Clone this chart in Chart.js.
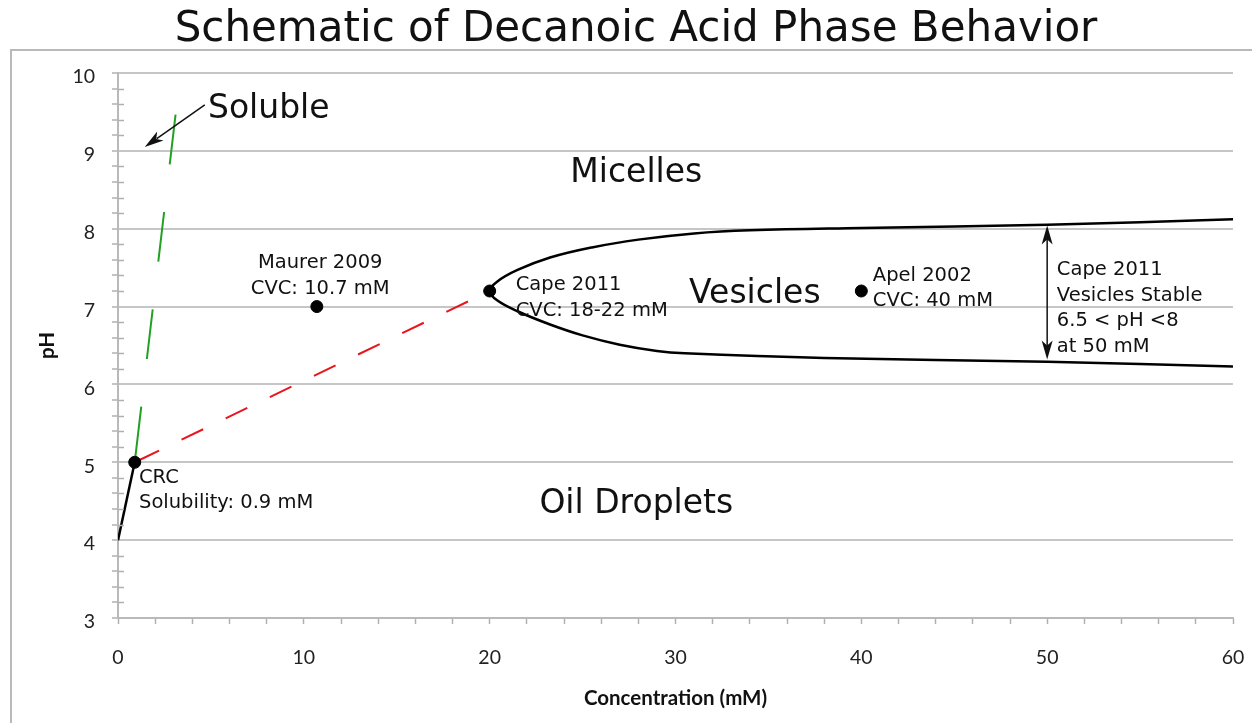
<!DOCTYPE html>
<html>
<head>
<meta charset="utf-8">
<title>Decanoic Acid Phase Behavior</title>
<script src="https://cdn.jsdelivr.net/npm/chart.js@4.4.1/dist/chart.umd.min.js"></script>
<style>
  body { margin: 0; background: #fff; }
  canvas { display: block; }
</style>
</head>
<body>
<canvas id="phase-canvas" width="1252" height="723"></canvas>
<script>
// ---- Data (concentration in mM, pH) ----
const crcLineX = [0, 0.9];
const crcLineY = [4, 5];
const solubleX = [0.9, 3.1];
const solubleY = [5, 9.47];
const oilVesicleX = [0.9, 20];
const oilVesicleY = [5, 7.2];
// vesicle region boundary, upper branch (right to left) then lower branch
const upperX = [60, 50, 40, 34, 31, 28, 25.5, 23.25, 21.5, 20.4, 20];
const upperY = [8.12, 8.05, 8.01, 7.98, 7.94, 7.86, 7.76, 7.63, 7.47, 7.32, 7.2];
const lowerX = [20.4, 21.5, 23.25, 25, 27, 29, 30.5, 38, 50, 60];
const lowerY = [7.08, 6.94, 6.77, 6.63, 6.51, 6.43, 6.4, 6.34, 6.29, 6.23];
// literature points
const studyX = [0.9, 10.7, 20, 40];
const studyY = [5, 7, 7.2, 7.2];
// arrows
const stableRangeX = [50, 50];
const stableRangeY = [8.04, 6.32];
const solubleArrowX = [4.67, 1.44];
const solubleArrowY = [9.59, 9.05];
// tick labels
const xTickValues = [0, 10, 20, 30, 40, 50, 60];
const yTickValues = [3, 4, 5, 6, 7, 8, 9, 10];

// region names and notes
const regionNames = ['Soluble', 'Micelles', 'Vesicles', 'Oil Droplets'];
const regionX = [4.84, 27.89, 34.27, 27.89];
const regionY = [9.42, 8.6, 7.05, 4.35];
const noteLines = [
    ['Maurer 2009', 'CVC: 10.7 mM'],
    ['Cape 2011', 'CVC: 18-22 mM'],
    ['Apel 2002', 'CVC: 40 mM'],
    ['Cape 2011', 'Vesicles Stable', '6.5 < pH <8', 'at 50 mM'],
    ['CRC', 'Solubility: 0.9 mM']
];
const noteX = [10.88, 21.4, 40.62, 50.52, 1.13];
const noteY = [7.49, 7.21, 7.33, 7.4, 4.74];

function toPoints(xs, ys){
    return xs.map((x, i) => ({x: x, y: ys[i]}));
}
function isWhole(v){
    return Math.abs(v - Math.round(v)) < 1e-6;
}

// Filled arrow head pointing at (x1, y1) coming from (x0, y0)
function arrowHead(ctx, x0, y0, x1, y1){
    const a = Math.atan2(y1 - y0, x1 - x0);
    ctx.save();
    ctx.translate(x1, y1);
    ctx.rotate(a);
    ctx.beginPath();
    ctx.moveTo(0, 0);
    ctx.lineTo(-19, -5.5);
    ctx.lineTo(-14, 0);
    ctx.lineTo(-19, 5.5);
    ctx.closePath();
    ctx.fill();
    ctx.restore();
}

const annotatePlugin = {
    id: 'annotate',
    beforeDraw(chart){
        const ctx = chart.ctx;
        // outer frame
        ctx.save();
        ctx.strokeStyle = '#b9b9b9';
        ctx.lineWidth = 2;
        ctx.beginPath();
        ctx.moveTo(11, chart.height + 5);
        ctx.lineTo(11, 50);
        ctx.lineTo(chart.width + 5, 50);
        ctx.stroke();
        ctx.restore();
    },
    afterDraw(chart){
        const ctx = chart.ctx;
        const xs = chart.scales.x;
        const ys = chart.scales.y;
        ctx.save();

        // title
        ctx.fillStyle = '#111';
        ctx.font = '42px "DejaVu Sans"';
        ctx.textAlign = 'center';
        ctx.textBaseline = 'alphabetic';
        ctx.fillText('Schematic of Decanoic Acid Phase Behavior', 636, 41);

        // minor y ticks cross into the plot
        ctx.strokeStyle = '#b0b0b0';
        ctx.lineWidth = 1.5;
        ys.ticks.forEach(t => {
            if(!isWhole(t.value)){
                const py = Math.round(ys.getPixelForValue(t.value)) + 0.5;
                ctx.beginPath();
                ctx.moveTo(xs.left, py);
                ctx.lineTo(xs.left + 6, py);
                ctx.stroke();
            }
        });

        // region names
        ctx.fillStyle = '#111';
        ctx.font = '33px "DejaVu Sans"';
        for (let i = 0; i < regionNames.length; i++) {
            ctx.textAlign = i === 0 ? 'left' : 'center';
            ctx.fillText(regionNames[i], xs.getPixelForValue(regionX[i]), ys.getPixelForValue(regionY[i]));
        }

        // study notes
        ctx.font = '19.5px "DejaVu Sans"';
        for (let i = 0; i < noteLines.length; i++) {
            ctx.textAlign = i === 0 ? 'center' : 'left';
            const px = xs.getPixelForValue(noteX[i]);
            const py = ys.getPixelForValue(noteY[i]);
            noteLines[i].forEach((line, j) => ctx.fillText(line, px, py + j * 25.5));
        }

        // arrows
        ctx.strokeStyle = '#111';
        ctx.fillStyle = '#111';
        ctx.lineWidth = 1.5;
        const ax0 = xs.getPixelForValue(stableRangeX[0]), ay0 = ys.getPixelForValue(stableRangeY[0]);
        const ax1 = xs.getPixelForValue(stableRangeX[1]), ay1 = ys.getPixelForValue(stableRangeY[1]);
        ctx.beginPath();
        ctx.moveTo(ax0, ay0 + 12);
        ctx.lineTo(ax1, ay1 - 12);
        ctx.stroke();
        arrowHead(ctx, ax1, ay1, ax0, ay0);
        arrowHead(ctx, ax0, ay0, ax1, ay1);

        const sx0 = xs.getPixelForValue(solubleArrowX[0]), sy0 = ys.getPixelForValue(solubleArrowY[0]);
        const sx1 = xs.getPixelForValue(solubleArrowX[1]), sy1 = ys.getPixelForValue(solubleArrowY[1]);
        ctx.beginPath();
        ctx.moveTo(sx0, sy0);
        ctx.lineTo(sx1 + (sx0 - sx1) * 0.2, sy1 + (sy0 - sy1) * 0.2);
        ctx.stroke();
        arrowHead(ctx, sx0, sy0, sx1, sy1);

        ctx.restore();
    }
};

const boundary = toPoints(upperX, upperY).concat(toPoints(lowerX, lowerY));

let phaseCanvas = document.getElementById('phase-canvas');
let phaseChart = new Chart(phaseCanvas, {
    type: 'scatter',
    data: {
        datasets: [
            {
                label: 'Studies',
                data: toPoints(studyX, studyY),
                backgroundColor: '#000',
                borderColor: '#000',
                pointRadius: 6,
                showLine: false
            },
            {
                label: 'Vesicle boundary',
                data: boundary,
                showLine: true,
                borderColor: '#000',
                borderWidth: 2.5,
                pointRadius: 0,
                tension: 0.4
            },
            {
                label: 'CRC line',
                data: toPoints(crcLineX, crcLineY),
                showLine: true,
                borderColor: '#000',
                borderWidth: 2.5,
                pointRadius: 0
            },
            {
                label: 'Soluble boundary',
                data: toPoints(solubleX, solubleY),
                showLine: true,
                borderColor: '#22a022',
                borderWidth: 2,
                borderDash: [50, 48],
                borderDashOffset: -6,
                pointRadius: 0
            },
            {
                label: 'Oil droplet / vesicle boundary',
                data: toPoints(oilVesicleX, oilVesicleY),
                showLine: true,
                borderColor: '#e8161c',
                borderWidth: 2,
                borderDash: [24, 25],
                borderDashOffset: -3,
                pointRadius: 0
            }
        ]
    },
    options: {
        responsive: false,
        animation: false,
        devicePixelRatio: 1,
        events: [],
        layout: {
            padding: {top: 73, right: 19, bottom: 0, left: 0}
        },
        plugins: {
            legend: {display: false},
            tooltip: {enabled: false},
            title: {display: false}
        },
        scales: {
            x: {
                type: 'linear',
                position: 'bottom',
                min: 0,
                max: 60,
                ticks: {
                    stepSize: 2,
                    autoSkip: false,
                    maxRotation: 0,
                    padding: 22,
                    color: '#222',
                    font: {family: 'Lato', size: 19.5},
                    callback: v => xTickValues.includes(v) ? String(v) : ''
                },
                grid: {
                    drawOnChartArea: false,
                    tickLength: 6,
                    tickWidth: 1.5,
                    tickColor: '#b0b0b0'
                },
                border: {color: '#b9b9b9', width: 2},
                title: {
                    display: true,
                    text: 'Concentration (mM)',
                    color: '#111',
                    font: {family: 'Lato', size: 20.5, weight: 'bold'},
                    padding: {top: 0, bottom: 12.7}
                },
                afterFit(scale){
                    scale.height = 105;
                    scale.paddingLeft = 0;
                    scale.paddingRight = 0;
                }
            },
            y: {
                type: 'linear',
                min: 3,
                max: 10,
                ticks: {
                    stepSize: 0.2,
                    autoSkip: false,
                    padding: 17,
                    labelOffset: 4,
                    color: '#222',
                    font: {family: 'Lato', size: 19.5},
                    callback: v => (isWhole(v) && yTickValues.includes(Math.round(v))) ? String(Math.round(v)) : ''
                },
                grid: {
                    color: c => isWhole(c.tick.value) ? '#c6c6c6' : 'rgba(0,0,0,0)',
                    lineWidth: 2,
                    tickLength: 6,
                    tickWidth: 1.5,
                    tickColor: '#b0b0b0'
                },
                border: {color: '#b9b9b9', width: 2},
                title: {
                    display: true,
                    text: 'pH',
                    color: '#111',
                    font: {family: 'Lato', size: 20.5, weight: 'bold'},
                    padding: {top: 35, bottom: 0}
                },
                afterFit(scale){
                    scale.width = 118;
                    scale.paddingTop = 0;
                    scale.paddingBottom = 0;
                }
            }
        }
    },
    plugins: [annotatePlugin]
});
</script>
</body>
</html>
